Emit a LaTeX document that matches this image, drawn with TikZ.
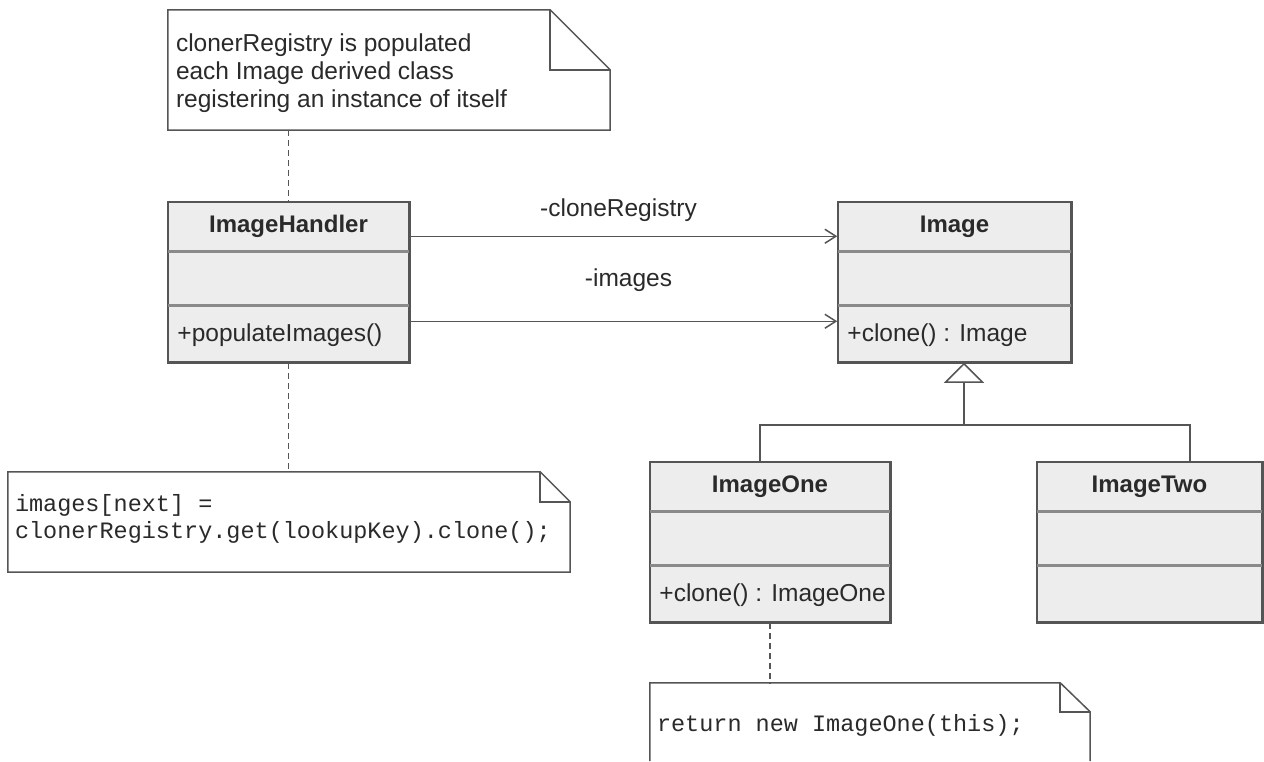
\documentclass[tikz,border=0pt]{standalone}
\usepackage{fontspec}
\setmainfont{Liberation Sans}
\newfontfamily\codefont{Liberation Mono}
\usetikzlibrary{arrows.meta}
\definecolor{boxfill}{HTML}{EDEDED}
\definecolor{edgecol}{HTML}{555555}
\definecolor{sepcol}{HTML}{8A8A8A}
\definecolor{txtcol}{HTML}{2A2A2A}
\begin{document}
\begin{tikzpicture}[x=1pt,y=-1pt,
 cls/.style={draw=edgecol, fill=boxfill, line width=1.5pt, inner sep=0pt, minimum height=160pt},
 sepline/.style={draw=sepcol, line width=2.5pt},
 ttl/.style={font=\fontsize{24}{28}\selectfont\bfseries, text=txtcol, anchor=base, inner sep=0pt},
 meth/.style={font=\fontsize{24.5}{28}\selectfont, text=txtcol, anchor=base west, inner sep=0pt},
 lbl/.style={font=\fontsize{24.5}{28}\selectfont, text=txtcol, anchor=base, inner sep=0pt},
 assoc/.style={draw=edgecol, line width=1.5pt, -{Straight Barb[length=11pt,width=14pt,line width=1.5pt]}},
 genl/.style={draw=edgecol, line width=1.5pt},
 gentip/.style={draw=edgecol, line width=1.5pt, -{Triangle[open, length=20pt, width=40pt, fill=white]}},
 noteline/.style={draw=edgecol, line width=1.5pt, fill=white, line join=miter},
 foldline/.style={draw=edgecol, line width=1.5pt},
 notearea/.style={inner sep=0pt},
 anchorline/.style={draw=edgecol, line width=1.3pt, dash pattern=on 6pt off 4pt},
 notetext/.style={font=\fontsize{24.5}{28}\selectfont, text=txtcol, align=left, anchor=north west, inner sep=0pt},
 codetext/.style={font=\codefont\fontsize{23.5}{27}\selectfont, text=txtcol, align=left, anchor=north west, inner sep=0pt},
]
\useasboundingbox[fill=white] (0,0) rectangle (1264,761);

% classes
\node[cls, minimum width=241pt] (hand) at (288.5,282) {};
\node[cls, minimum width=233pt] (img) at (954.5,282) {};
\node[cls, minimum width=240pt] (one) at (770,542) {};
\node[cls, minimum width=225pt] (two) at (1149.5,542) {};
\foreach \c in {hand,img,one,two} {
  \draw[sepline] ([yshift=-50pt]\c.north west) -- ([yshift=-50pt]\c.north east);
  \draw[sepline] ([yshift=-104pt]\c.north west) -- ([yshift=-104pt]\c.north east);
  \draw[draw=edgecol, line width=1.5pt] (\c.north west) rectangle (\c.south east);
}
\node[ttl] (handT) at ([yshift=-31pt]hand.north) {ImageHandler};
\node[ttl] (imgT) at ([yshift=-31pt]img.north) {Image};
\node[ttl] (oneT) at ([yshift=-31pt]one.north) {ImageOne};
\node[ttl] (twoT) at ([yshift=-31pt]two.north) {ImageTwo};
\node[meth] (handM) at ([xshift=10pt,yshift=-140pt]hand.north west) {+populateImages()};
\node[meth] (imgM) at ([xshift=10pt,yshift=-140pt]img.north west) {+clone() : Image};
\node[meth] (oneM) at ([xshift=10pt,yshift=-140pt]one.north west) {+clone() : ImageOne};

% associations
\draw[assoc] ([yshift=-35pt]hand.north east) -- ([yshift=-35pt]img.north west)
  node[lbl, midway, yshift=20pt, xshift=-5pt] (lab1) {-cloneRegistry};
\draw[assoc] ([yshift=-120pt]hand.north east) -- ([yshift=-120pt]img.north west)
  node[lbl, midway, yshift=35pt, xshift=5pt] (lab2) {-images};

% generalization
\coordinate (bus) at (964,425);
\draw[genl] ([xshift=-10pt]one.north) |- (bus) -| ([xshift=40.5pt]two.north);
\draw[gentip] (bus) -- (img.south -| bus);

% note 1
\node[notearea, minimum width=442pt, minimum height=120pt] (n1) at (389,70) {};
\draw[noteline] (n1.north west) -- ([xshift=-60pt]n1.north east) -- ([yshift=-60pt]n1.north east) -- (n1.south east) -- (n1.south west) -- cycle;
\draw[foldline] ([xshift=-60pt]n1.north east) |- ([yshift=-60pt]n1.north east);
\node[notetext] (n1t) at ([xshift=8pt,yshift=-23.5pt]n1.north west) {clonerRegistry is populated\\each Image derived class\\registering an instance of itself};
\draw[anchorline] (n1.south -| hand.north) -- (hand.north);

% note 2
\node[notearea, minimum width=562pt, minimum height=100pt] (n2) at (289,522) {};
\draw[noteline] (n2.north west) -- ([xshift=-30pt]n2.north east) -- ([yshift=-30pt]n2.north east) -- (n2.south east) -- (n2.south west) -- cycle;
\draw[foldline] ([xshift=-30pt]n2.north east) |- ([yshift=-30pt]n2.north east);
\node[codetext] (n2t) at ([xshift=7pt,yshift=-22pt]n2.north west) {images[next] =\\clonerRegistry.get(lookupKey).clone();};
\draw[anchorline] (hand.south) -- (n2.north -| hand.south);

% note 3
\node[notearea, minimum width=440pt, minimum height=78pt] (n3) at (870,722) {};
\draw[noteline] (n3.south west) -- (n3.north west) -- ([xshift=-30pt]n3.north east) -- ([yshift=-29pt]n3.north east) -- (n3.south east);
\draw[foldline] ([xshift=-30pt]n3.north east) |- ([yshift=-29pt]n3.north east);
\node[codetext] (n3t) at ([xshift=7pt,yshift=-31pt]n3.north west) {return new ImageOne(this);};
\draw[anchorline] (one.south) -- (n3.north -| one.south);
\end{tikzpicture}
\end{document}
